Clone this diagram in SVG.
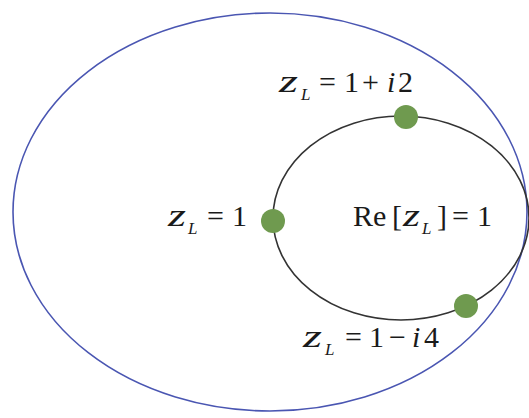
<svg xmlns="http://www.w3.org/2000/svg" width="529" height="418" viewBox="0 0 529 418">
<style>
.t{font-family:"Liberation Serif","Times New Roman",serif;font-size:30px;fill:#1a1a1a}
.i{font-style:italic}
.z{font-family:"Liberation Serif","Times New Roman",serif;font-size:31px;font-style:italic;fill:#1a1a1a}
.s{font-family:"Liberation Serif","Times New Roman",serif;font-style:italic;font-size:17px;fill:#1a1a1a}
.dot{fill:#6f9a4f}
</style>
<rect width="529" height="418" fill="#fff"/>
<g id="connectors">
<ellipse id="outer" cx="270" cy="212" rx="257" ry="199" fill="none" stroke="#4a56b2" stroke-width="1.6"/>
<ellipse id="inner" cx="401" cy="218" rx="128" ry="102" fill="none" stroke="#333" stroke-width="1.6"/>
</g>
<g id="n1">
<circle class="dot" cx="406" cy="117" r="12"/>
<text class="z" x="279" y="92" textLength="19" lengthAdjust="spacingAndGlyphs">z</text>
<text class="s" x="301" y="100">L</text>
<text class="t" y="92"><tspan x="319">=</tspan><tspan x="344">1</tspan><tspan x="362">+</tspan><tspan class="i" x="387">i</tspan><tspan x="398">2</tspan></text>
</g>
<g id="n2">
<circle class="dot" cx="273" cy="221" r="12"/>
<text class="z" x="168" y="226" textLength="18" lengthAdjust="spacingAndGlyphs">z</text>
<text class="s" x="188" y="234">L</text>
<text class="t" y="226"><tspan x="207">=</tspan><tspan x="232">1</tspan></text>
</g>
<g id="n3">
<circle class="dot" cx="466" cy="306" r="12"/>
<text class="z" x="303" y="347" textLength="19" lengthAdjust="spacingAndGlyphs">z</text>
<text class="s" x="325" y="355">L</text>
<text class="t" y="347"><tspan x="345">=</tspan><tspan x="369">1</tspan><tspan x="389">−</tspan><tspan class="i" x="412">i</tspan><tspan x="424">4</tspan></text>
</g>
<g id="label">
<text class="t" x="353" y="226">Re<tspan x="392">[</tspan></text>
<text class="z" x="403" y="226" textLength="17" lengthAdjust="spacingAndGlyphs">z</text>
<text class="s" x="422" y="234">L</text>
<text class="t" y="226"><tspan x="437">]</tspan><tspan x="452">=</tspan><tspan x="477">1</tspan></text>
</g>
</svg>
